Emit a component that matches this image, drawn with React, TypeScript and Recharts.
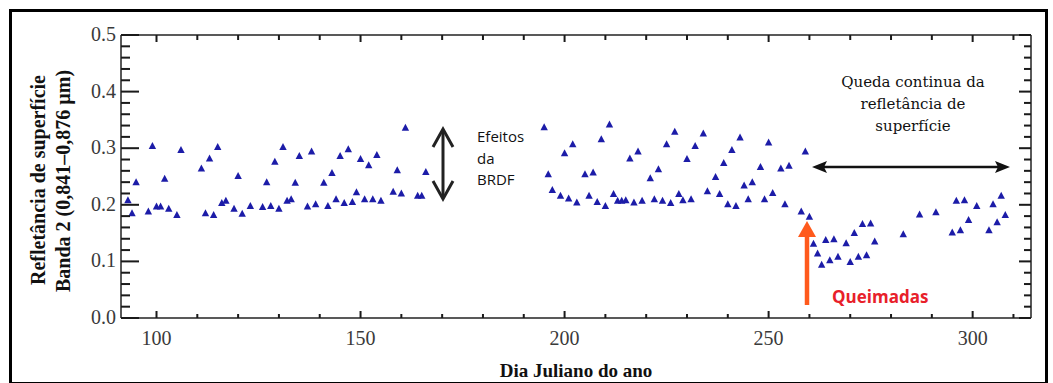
import React from 'react';
import { ScatterChart, Scatter, XAxis, YAxis } from 'recharts';

// Dia juliano e refletância de superfície (banda 2)
const days = [
  93, 94, 95, 98, 99, 100, 101, 102, 103, 105, 106, 111, 112, 113, 114, 115, 116, 117, 119, 120,
  121, 123, 126, 127, 128, 129, 130, 131, 132, 133, 134, 135, 137, 138, 139, 141, 142, 143, 144, 145,
  146, 147, 148, 149, 150, 151, 152, 153, 154, 155, 158, 159, 160, 161, 164, 165, 166,
  195, 196, 197, 199, 200, 201, 202, 203, 205, 206, 207, 208, 209, 210, 211, 212, 213, 214, 215,
  216, 217, 218, 219, 221, 222, 223, 224, 225, 226, 227, 228, 229, 230, 231, 232, 234, 235, 237, 238,
  239, 240, 241, 242, 243, 244, 245, 246, 248, 249, 250, 251, 253, 254, 255, 258, 259, 260, 261, 262,
  263, 264, 265, 266, 267, 269, 270, 271, 272, 273, 274, 275, 276, 283, 287, 291, 295, 296, 297, 298,
  299, 301, 304, 305, 306, 307, 308,
];

const reflectance = [
  0.208, 0.185, 0.24, 0.188, 0.304, 0.197, 0.197, 0.246, 0.193, 0.182, 0.297, 0.264, 0.185, 0.282, 0.182, 0.302, 0.203, 0.207, 0.193, 0.251,
  0.184, 0.198, 0.196, 0.24, 0.198, 0.276, 0.193, 0.302, 0.207, 0.21, 0.239, 0.286, 0.197, 0.294, 0.201, 0.239, 0.198, 0.256, 0.21, 0.286,
  0.203, 0.298, 0.205, 0.222, 0.281, 0.21, 0.27, 0.21, 0.288, 0.207, 0.223, 0.261, 0.22, 0.336, 0.216, 0.216, 0.258,
  0.337, 0.254, 0.226, 0.216, 0.291, 0.211, 0.307, 0.204, 0.254, 0.216, 0.257, 0.205, 0.316, 0.198, 0.342, 0.219, 0.207, 0.207, 0.208,
  0.282, 0.204, 0.294, 0.207, 0.247, 0.21, 0.263, 0.207, 0.307, 0.203, 0.329, 0.219, 0.208, 0.281, 0.21, 0.304, 0.326, 0.224, 0.249, 0.219,
  0.274, 0.201, 0.297, 0.198, 0.319, 0.234, 0.21, 0.24, 0.267, 0.21, 0.31, 0.221, 0.264, 0.201, 0.269, 0.188, 0.294, 0.179, 0.131, 0.114,
  0.094, 0.138, 0.102, 0.139, 0.108, 0.132, 0.099, 0.15, 0.108, 0.166, 0.111, 0.167, 0.135, 0.148, 0.183, 0.187, 0.151, 0.207, 0.155, 0.208,
  0.173, 0.198, 0.155, 0.201, 0.169, 0.216, 0.182,
];

const xTicks = [100, 110, 120, 130, 140, 150, 160, 170, 180, 190, 200, 210, 220, 230, 240, 250, 260, 270, 280, 290, 300, 310];
const xMajor = [100, 150, 200, 250, 300];
const yTicks = [
  0, 0.02, 0.04, 0.06, 0.08, 0.1, 0.12, 0.14, 0.16, 0.18, 0.2, 0.22, 0.24,
  0.26, 0.28, 0.3, 0.32, 0.34, 0.36, 0.38, 0.4, 0.42, 0.44, 0.46, 0.48, 0.5,
];
const yMajor = [0, 0.1, 0.2, 0.3, 0.4, 0.5];

const X_MIN = 91.3;
const X_MAX = 314.3;
const Y_MIN = 0;
const Y_MAX = 0.5;

const data = days.map((d, i) => ({ day: d, refl: reflectance[i] }));

// chart size and margins -> plot box (left axis 50 wide, right 10, top 10 high, bottom 30)
const W = 1053;
const H = 383;
const M = { top: 25, right: 12, bottom: 35, left: 71 };
const PLOT = { left: M.left + 50, right: W - M.right - 10, top: M.top + 10, bottom: H - M.bottom - 30 };
const sx = (v: number) => PLOT.left + ((v - X_MIN) / (X_MAX - X_MIN)) * (PLOT.right - PLOT.left);
const sy = (v: number) => PLOT.bottom - ((v - Y_MIN) / (Y_MAX - Y_MIN)) * (PLOT.bottom - PLOT.top);

const serif = '"Liberation Serif", "Times New Roman", serif';
const tickColor = '#3a3a3a';
const ink = '#222';

const isYMajor = (v: number) => yMajor.some((m) => Math.abs(m - v) < 1e-6);

const bottomLabel = (props: any) => {
  const v = props.payload.value;
  if (!xMajor.includes(v)) return <g />;
  return (
    <text x={props.x} y={Number(props.y) + 27} textAnchor="middle" fontFamily={serif} fontSize={20} fill={tickColor}>
      {v}
    </text>
  );
};

const leftLabel = (props: any) => {
  const v = props.payload.value;
  if (!isYMajor(v)) return <g />;
  return (
    <text x={Number(props.x) - 5} y={Number(props.y) + 6} textAnchor="end" fontFamily={serif} fontSize={20} fill={tickColor}>
      {v.toFixed(1)}
    </text>
  );
};

const Triangle = ({ cx, cy }: any) => (
  <path d={`M${cx},${cy - 4} L${cx + 3.7},${cy + 3} L${cx - 3.7},${cy + 3} Z`} fill="#1c1ca8" />
);

const axisLine = { stroke: ink, strokeWidth: 1.5 };

// inward tick marks on all four sides, drawn as small filled bars
const TickBars = () => (
  <g fill="#1a1a1a">
    {xTicks.map((v) => {
      const x = sx(v);
      const major = xMajor.includes(v);
      const lb = major ? 7 : 4;
      const lt = major ? 7 : 5;
      return (
        <g key={`x-${v}`}>
          <rect x={x - 1} y={PLOT.bottom - lb} width={2} height={lb} />
          <rect x={x - 1} y={PLOT.top} width={2} height={lt} />
        </g>
      );
    })}
    {yTicks.map((v) => {
      const y = sy(v);
      const major = isYMajor(v);
      const ll = major ? 18 : 9;
      const lr = major ? 12 : 7;
      return (
        <g key={`y-${v}`}>
          <rect x={PLOT.left} y={y - 1} width={ll} height={2} />
          <rect x={PLOT.right - lr} y={y - 1} width={lr} height={2} />
        </g>
      );
    })}
  </g>
);

export default function App() {
  return (
    <div style={{ position: 'absolute', left: 0, top: 0, width: W, height: H, background: '#fff', overflow: 'hidden' }}>
      <div
        style={{
          position: 'absolute',
          left: 9,
          top: 9,
          width: 1033,
          height: 370,
          border: '3px solid #000',
        }}
      />
      <div style={{ position: 'absolute', left: 0, top: 0 }}>
        <ScatterChart width={W} height={H} margin={M}>
          <XAxis
            type="number"
            dataKey="day"
            domain={[X_MIN, X_MAX]}
            allowDataOverflow
            ticks={xTicks}
            interval={0}
            height={30}
            tickSize={0}
            tickMargin={0}
            tickLine={false}
            axisLine={axisLine}
            tick={bottomLabel}
          />
          <XAxis
            xAxisId="top"
            orientation="top"
            type="number"
            dataKey="day"
            domain={[X_MIN, X_MAX]}
            allowDataOverflow
            ticks={xTicks}
            interval={0}
            height={10}
            tickLine={false}
            tick={false}
            axisLine={axisLine}
          />
          <YAxis
            type="number"
            dataKey="refl"
            domain={[Y_MIN, Y_MAX]}
            allowDataOverflow
            ticks={yTicks}
            interval={0}
            width={50}
            tickSize={0}
            tickMargin={0}
            tickLine={false}
            axisLine={axisLine}
            tick={leftLabel}
          />
          <YAxis
            yAxisId="right"
            orientation="right"
            type="number"
            dataKey="refl"
            domain={[Y_MIN, Y_MAX]}
            allowDataOverflow
            ticks={yTicks}
            interval={0}
            width={10}
            tickLine={false}
            tick={false}
            axisLine={axisLine}
          />
          <Scatter data={data} shape={<Triangle />} isAnimationActive={false} />
        </ScatterChart>
      </div>
      <svg width={W} height={H} style={{ position: 'absolute', left: 0, top: 0, pointerEvents: 'none' }}>
        <TickBars />
        <text
          transform="translate(38,180) rotate(-90)"
          textAnchor="middle"
          fontFamily={serif}
          fontWeight="bold"
          fontSize={20}
          fill="#111"
          dominantBaseline="central"
        >
          Refletância de superfície
        </text>
        <text
          transform="translate(63,181) rotate(-90)"
          textAnchor="middle"
          fontFamily={serif}
          fontWeight="bold"
          fontSize={20}
          fill="#111"
          dominantBaseline="central"
        >
          Banda 2 (0,841–0,876 µm)
        </text>
        <text x={576} y={377} textAnchor="middle" fontFamily={serif} fontWeight="bold" fontSize={19} fill="#111">
          Dia Juliano do ano
        </text>

        {/* Efeitos da BRDF */}
        <line x1={443} x2={443} y1={130} y2={198} stroke="#222" strokeWidth={3} />
        <polyline points="433,147 443,129 453,147" fill="none" stroke="#222" strokeWidth={3} />
        <polyline points="433,181 443,199 453,181" fill="none" stroke="#222" strokeWidth={3} />
        <g fontFamily='"Open Sans", sans-serif' fontSize={15} fill="#111">
          <text x={477} y={142}>Efeitos</text>
          <text x={477} y={164}>da</text>
          <text x={477} y={185}>BRDF</text>
        </g>

        {/* Queda contínua */}
        <g fontFamily='"DejaVu Serif", serif' fontSize={15} fill="#111" textAnchor="middle">
          <text x={913} y={87}>Queda continua da</text>
          <text x={913} y={109}>refletância de</text>
          <text x={913} y={131}>superfície</text>
        </g>
        <line x1={820} x2={1002} y1={167} y2={167} stroke="#111" strokeWidth={2.5} />
        <polygon points="812,167 827,161 824,167 827,173" fill="#111" />
        <polygon points="1010,167 995,161 998,167 995,173" fill="#111" />

        {/* Queimadas */}
        <line x1={807} x2={807} y1={305} y2={233} stroke="#ff5a1c" strokeWidth={4.5} />
        <polygon points="807,221 798,237 816,237" fill="#ff5a1c" />
        <text x={832} y={303} fontFamily='"Open Sans", sans-serif' fontWeight="bold" fontSize={17} fill="#e8202a">
          Queimadas
        </text>
      </svg>
    </div>
  );
}
